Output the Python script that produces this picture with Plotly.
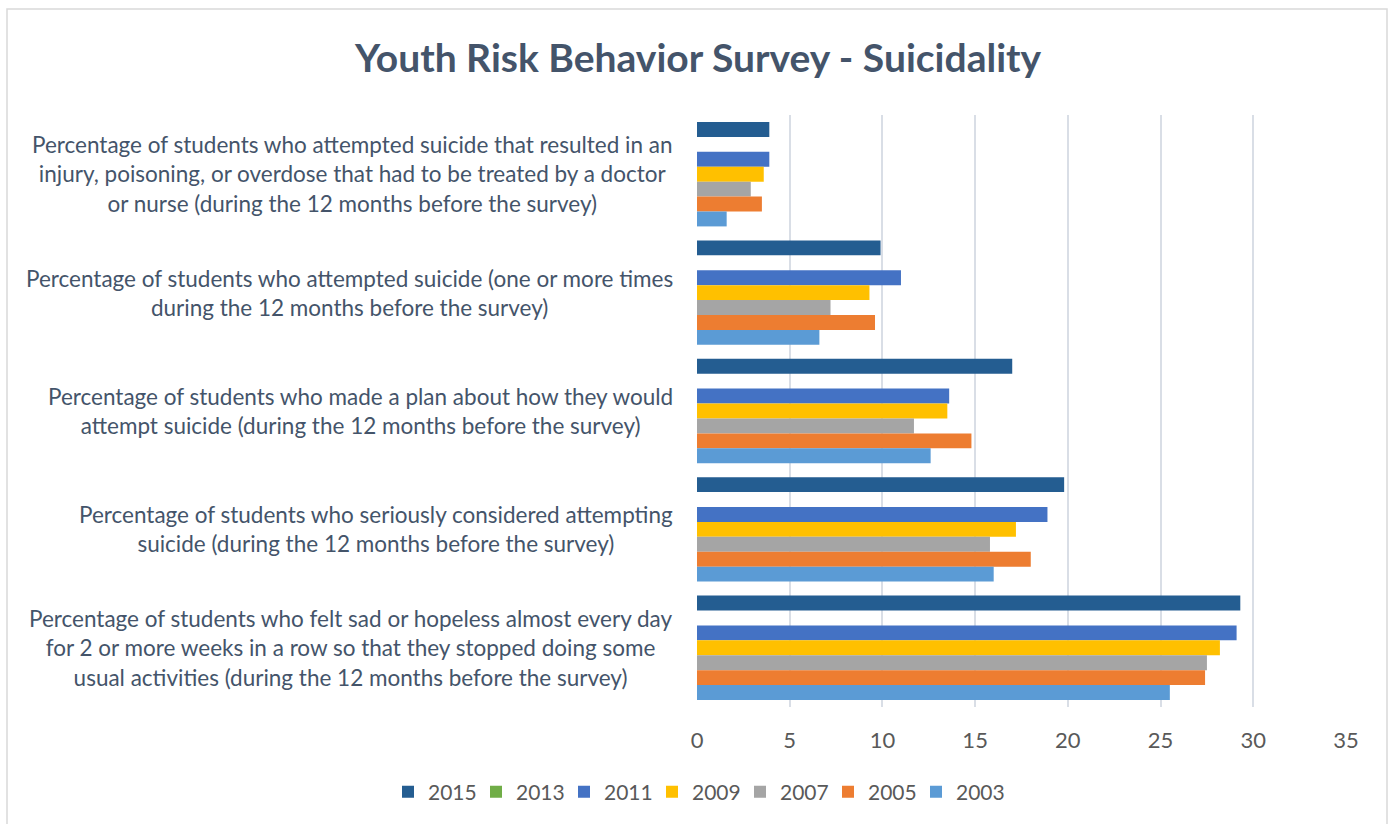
import plotly.graph_objects as go

categories = [
    "Percentage of students who attempted suicide that resulted in an<br>injury, poisoning, or overdose that had to be treated by a doctor<br>or nurse (during the 12 months before the survey)",
    "Percentage of students who attempted suicide (one or more times<br>during the 12 months before the survey)",
    "Percentage of students who made a plan about how they would<br>attempt suicide (during the 12 months before the survey)",
    "Percentage of students who seriously considered attempting<br>suicide (during the 12 months before the survey)",
    "Percentage of students who felt sad or hopeless almost every day<br>for 2 or more weeks in a row so that they stopped doing some<br>usual activities (during the 12 months before the survey)",
]

years = ["2015", "2013", "2011", "2009", "2007", "2005", "2003"]
v2015 = [3.9, 9.9, 17.0, 19.8, 29.3]
v2013 = [None, None, None, None, None]
v2011 = [3.9, 11.0, 13.6, 18.9, 29.1]
v2009 = [3.6, 9.3, 13.5, 17.2, 28.2]
v2007 = [2.9, 7.2, 11.7, 15.8, 27.5]
v2005 = [3.5, 9.6, 14.8, 18.0, 27.4]
v2003 = [1.6, 6.6, 12.6, 16.0, 25.5]
series = [v2015, v2013, v2011, v2009, v2007, v2005, v2003]
colors = ["#245D91", "#70AD47", "#4472C4", "#FFC000", "#A5A5A5", "#ED7D31", "#5B9BD5"]

FONT = "Lato"
TXT = "#44546A"
TICK = "#595959"

fig = go.Figure()
for yr, vals, col in zip(years, series, colors):
    fig.add_trace(go.Bar(
        x=vals, y=categories, name=yr, orientation="h",
        marker=dict(color=col, line=dict(width=0)),
    ))
# invisible spacer entry so the last legend label is not clipped
fig.add_trace(go.Scatter(x=[None], y=[None], mode="markers", name=" ",
                         marker=dict(color="rgba(0,0,0,0)"), hoverinfo="skip"))

annotations = []
for cat in categories:
    annotations.append(dict(
        x=0, xref="paper", y=cat, yref="y", xanchor="right", yanchor="middle",
        xshift=-22, text=cat, showarrow=False,
        align="center", font=dict(family=FONT, size=22.5, color=TXT),
    ))

L, R, T, B = 697, 1346, 115, 707
W, H = 1391, 824
pw, ph = R - L, B - T

fig.update_layout(
    width=W, height=H,
    margin=dict(l=L, r=W - R, t=T, b=H - B, pad=0, autoexpand=False),
    paper_bgcolor="white", plot_bgcolor="white",
    barmode="group", bargap=0.118, bargroupgap=0,
    title=dict(text="<b>Youth Risk Behavior Survey - Suicidality</b>",
               x=698 / W, xanchor="center", y=1 - 58 / H, yanchor="middle",
               font=dict(family=FONT, size=39, color=TXT)),
    xaxis=dict(range=[0, 35], dtick=5, tick0=0, showgrid=True, gridcolor="#D9DEE6",
               gridwidth=1.5, zeroline=False, showline=False,
               tickfont=dict(family=FONT, size=22, color=TICK),
               ticks="outside", ticklen=14, tickcolor="rgba(0,0,0,0)"),
    yaxis=dict(autorange="reversed", showticklabels=False, showgrid=False,
               zeroline=False, showline=False),
    legend=dict(orientation="h", x=(388 - L) / pw, xanchor="left",
                y=(B - 792) / ph, yanchor="middle",
                font=dict(family=FONT, size=21, color=TICK),
                itemwidth=30, entrywidth=43, entrywidthmode="pixels",
                tracegroupgap=0),
    annotations=annotations,
    shapes=[dict(type="rect", xref="paper", yref="paper",
                 x0=(7 - L) / pw, x1=(1387 - L) / pw,
                 y0=(B - 870) / ph, y1=(B - 9) / ph,
                 line=dict(color="#D9D9D9", width=1.5), fillcolor="rgba(0,0,0,0)",
                 layer="below")],
    showlegend=True,
)

fig.write_html("out.html", config={"displayModeBar": False},
               post_script="document.body.style.margin='0';document.body.style.overflow='hidden';")
